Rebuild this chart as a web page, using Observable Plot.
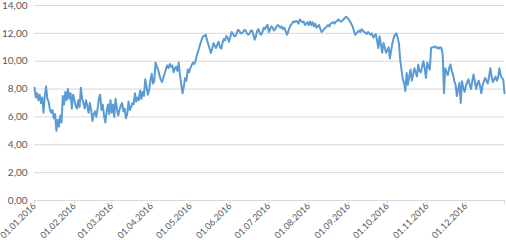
<!DOCTYPE html>
<html>
<head>
<meta charset="utf-8">
<script src="https://cdn.jsdelivr.net/npm/d3@7"></script>
<script src="https://cdn.jsdelivr.net/npm/@observablehq/plot@0.6"></script>
<style>
  html, body { margin: 0; padding: 0; background: #fff; }
  #chart svg { display: block; overflow: visible; }
</style>
</head>
<body>
<div id="chart"></div>
<script>
// Daily values for 2016 (index 0 = 01.01.2016)
const values = [
  8.1,7.4,7.7,7.2,7.6,7.0,7.4,6.3,7.5,8.2,
  7.3,7.1,6.5,6.3,6.5,5.9,6.2,5.0,5.8,5.3,
  6.1,5.6,7.5,6.9,7.8,7.2,8.0,7.3,7.7,6.6,
  7.6,7.2,6.8,6.6,7.2,6.7,8.1,7.3,7.0,6.6,
  7.2,6.8,6.3,7.0,6.5,5.7,6.2,6.4,6.0,6.6,
  7.3,7.6,6.5,6.9,6.1,5.6,6.4,6.9,6.2,7.2,
  6.3,6.9,6.0,7.3,6.6,6.1,6.5,6.8,7.0,6.4,
  6.6,5.9,6.2,7.1,6.5,6.7,7.0,6.9,7.7,7.1,
  7.4,7.2,7.9,7.3,7.8,7.5,8.7,8.2,7.6,7.9,
  8.6,9.1,8.4,8.6,9.9,9.6,9.4,9.0,8.7,8.5,
  8.8,9.1,9.4,9.7,9.5,9.8,9.6,9.7,9.2,9.5,
  9.6,9.3,9.9,9.0,8.3,7.7,8.2,8.8,8.6,9.4,
  9.2,9.5,9.7,9.9,9.8,10.0,10.4,10.7,11.0,11.3,
  11.6,11.8,11.8,11.9,11.5,11.2,10.9,10.6,10.9,11.3,
  11.1,10.95,11.2,11.4,11.0,10.9,11.3,11.6,11.5,11.8,
  11.7,11.4,11.7,12.1,12.0,11.8,11.8,12.0,12.25,12.2,
  12.0,12.0,12.1,12.25,12.2,12.0,11.9,12.0,12.2,12.2,
  11.9,11.55,11.8,12.2,12.3,12.0,11.9,12.1,12.4,12.3,
  12.5,12.6,12.1,12.3,12.5,12.4,12.2,12.3,12.5,12.6,
  12.5,12.4,12.5,12.3,12.4,12.2,11.9,12.1,12.4,12.6,
  12.7,12.85,12.8,12.9,12.85,12.7,13.0,12.9,12.8,12.85,
  12.6,12.7,12.8,12.6,12.85,12.6,12.8,12.5,12.7,12.4,
  12.5,12.6,12.3,12.1,12.2,12.3,12.4,12.5,12.6,12.5,
  12.7,12.75,12.8,12.7,12.85,12.9,13.0,12.9,12.85,12.9,
  13.0,13.1,13.2,13.1,13.0,12.85,12.7,12.5,12.2,11.9,
  12.0,12.1,12.2,12.1,12.3,12.2,12.1,12.05,11.95,12.1,
  12.0,11.9,12.0,11.7,11.8,11.95,11.5,10.95,11.8,11.2,
  10.6,11.3,11.0,10.6,10.8,11.0,10.2,10.8,11.3,11.7,
  11.9,12.0,11.7,11.3,10.1,9.4,8.7,8.45,7.86,9.16,
  8.3,8.9,9.4,8.6,9.0,9.5,9.2,8.9,9.76,9.3,
  9.2,9.6,10.0,9.5,8.8,9.9,9.6,9.4,10.95,11.0,
  11.0,11.07,10.95,11.0,10.9,11.0,10.95,10.5,7.7,9.5,
  9.2,9.0,9.5,9.76,9.3,9.05,8.6,8.3,7.5,8.0,
  8.45,7.0,8.57,8.1,7.8,8.2,8.5,8.7,8.3,8.0,
  8.6,9.05,8.5,8.0,8.4,8.6,8.2,7.7,8.3,8.57,
  8.8,8.6,8.4,8.9,9.5,8.9,8.5,8.7,8.9,8.6,
  8.8,9.5,9.0,8.8,8.7,7.7
];
const startDate = "2016-01-01";
const endDate = "2016-12-31";
const monthTickLabels = ["01.01.2016","01.02.2016","01.03.2016","01.04.2016","01.05.2016","01.06.2016",
  "01.07.2016","01.08.2016","01.09.2016","01.10.2016","01.11.2016","01.12.2016"];
const yTicks = [0, 2, 4, 6, 8, 10, 12, 14];

const parseLabel = d3.utcParse("%d.%m.%Y");
const start = new Date(startDate + "T00:00:00Z");
const end = new Date(endDate + "T00:00:00Z");
const data = values.map((v, i) => ({date: d3.utcDay.offset(start, i), value: v}));
const monthTicks = monthTickLabels.map(parseLabel);
const allTicks = [...monthTicks, end];
const fmtY = d => d.toFixed(2).replace(".", ",");
const fmtX = d3.utcFormat("%d.%m.%Y");

const plot = Plot.plot({
  width: 506,
  height: 240,
  marginLeft: 34,
  marginRight: 2,
  marginTop: 5,
  marginBottom: 40,
  style: {fontFamily: "Lato, sans-serif", fontSize: "10px", background: "#fff"},
  x: {type: "utc", domain: [start, end]},
  y: {domain: [0, 14]},
  marks: [
    Plot.gridY(yTicks, {stroke: "#d9d9d9", strokeOpacity: 1, strokeWidth: 1}),
    Plot.axisY(yTicks, {tickSize: 0, tickPadding: 7, tickFormat: fmtY, fill: "#595959", label: null}),
    Plot.axisX(allTicks, {tickSize: 4, stroke: "#d9d9d9", strokeOpacity: 1, tickFormat: () => "", label: null}),
    Plot.axisX(monthTicks, {tickSize: 0, tickPadding: 4, tickRotate: -45, tickFormat: fmtX, fill: "#595959", fontSize: 9, label: null}),
    Plot.lineY(data, {x: "date", y: "value", stroke: "#5b9bd5", strokeWidth: 2, strokeLinejoin: "round"})
  ]
});
document.getElementById("chart").appendChild(plot);
</script>
</body>
</html>
